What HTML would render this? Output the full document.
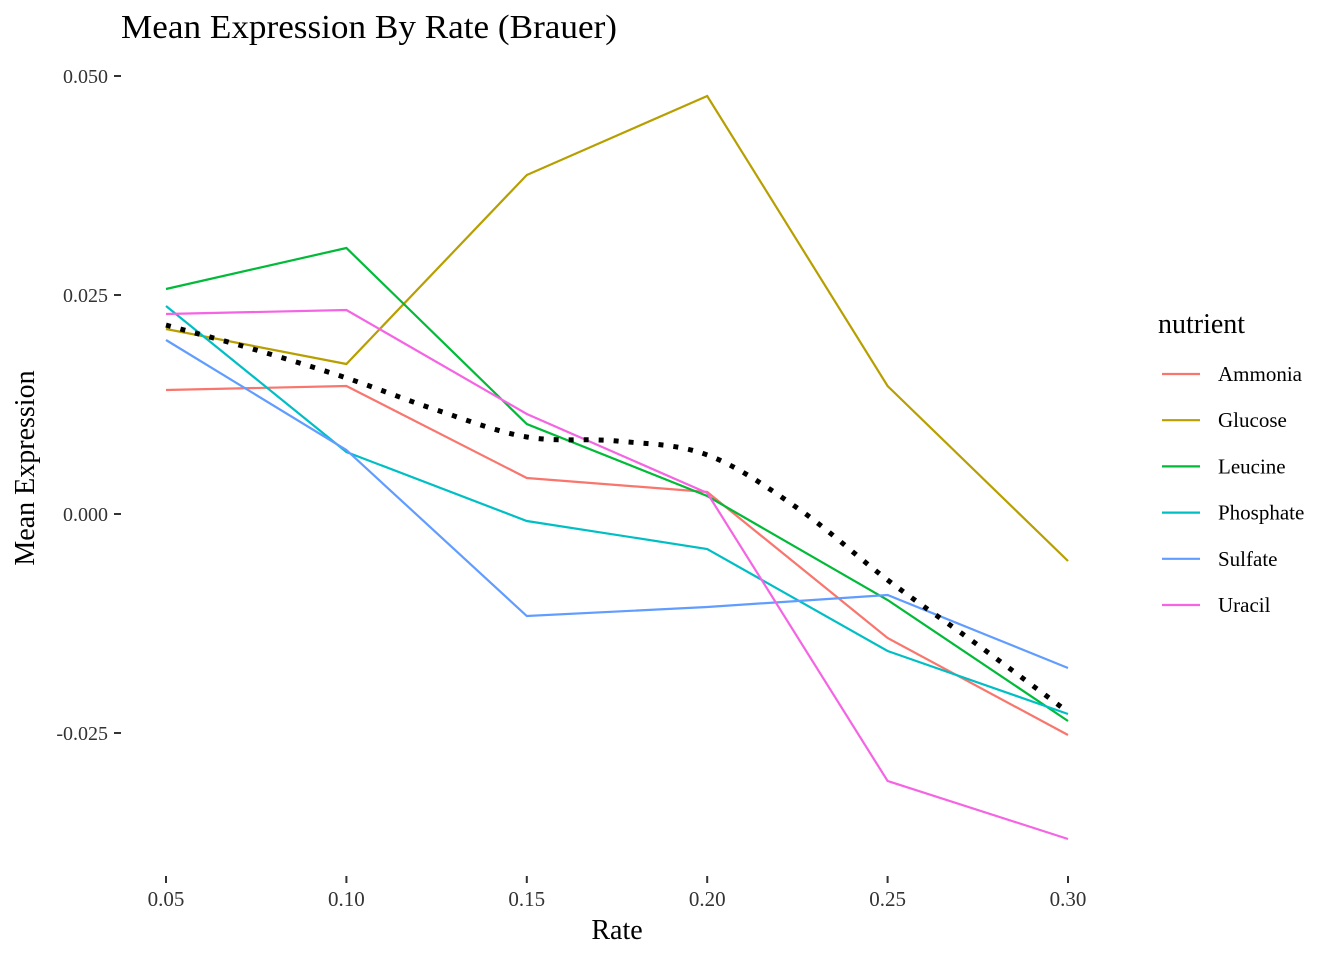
<!DOCTYPE html>
<html><head><meta charset="utf-8"><style>
body{margin:0;background:#fff;}
svg{display:block;font-family:"Liberation Serif",serif;}
</style></head><body>
<svg id="chart" width="1344" height="960">
<text x="121" y="38" font-size="34" fill="#000" textLength="496" lengthAdjust="spacingAndGlyphs">Mean Expression By Rate (Brauer)</text>
<g id="yaxis"></g>
<g id="xaxis"></g>
<text x="617" y="939" font-size="28" text-anchor="middle">Rate</text>
<text transform="translate(34,468) rotate(-90)" font-size="28" text-anchor="middle">Mean Expression</text>
<g id="series"></g>
<g id="legend">
<text x="1158" y="333" font-size="28">nutrient</text>
</g>
</svg>
<script>
const rates=[0.05,0.10,0.15,0.20,0.25,0.30];
const nutrients=["Ammonia","Glucose","Leucine","Phosphate","Sulfate","Uracil"];
const colors=["#F8766D","#B79F00","#00BA38","#00BFC4","#619CFF","#F564E3"];
const ammonia=[0.01416,0.01461,0.00411,0.00251,-0.01416,-0.02523];
const glucose=[0.02112,0.01712,0.0387,0.04772,0.01461,-0.00537];
const leucine=[0.02568,0.03037,0.01027,0.00205,-0.00982,-0.02363];
const phosphate=[0.02374,0.00708,-0.0008,-0.004,-0.01564,-0.02283];
const sulfate=[0.01986,0.00731,-0.01164,-0.01062,-0.00925,-0.01758];
const uracil=[0.02283,0.02329,0.01142,0.0024,-0.03048,-0.0371];
const smoothX=[0.05,0.075,0.10,0.125,0.15,0.175,0.20,0.225,0.25,0.275,0.30];
const smoothY=[0.02157,0.01872,0.01553,0.01187,0.00879,0.00833,0.00674,0.00068,-0.00753,-0.01495,-0.02260];
const yTicks=[0.050,0.025,0.000,-0.025];
const yTickLabels=["0.050","0.025","0.000","-0.025"];
const xTicks=[0.05,0.10,0.15,0.20,0.25,0.30];
const xTickLabels=["0.05","0.10","0.15","0.20","0.25","0.30"];
const allSeries=[ammonia,glucose,leucine,phosphate,sulfate,uracil];

const NS="http://www.w3.org/2000/svg";
function xs(v){return 166+(v-0.05)*(1068-166)/0.25;}
function ys(v){return 514-v*8760;}
function mk(t,a,p){const e=document.createElementNS(NS,t);for(const k in a)e.setAttribute(k,a[k]);p.appendChild(e);return e;}

const ya=document.getElementById('yaxis');
yTicks.forEach((t,i)=>{
  const l=mk('line',{x1:114,x2:121,y1:ys(t),y2:ys(t),stroke:'#333','stroke-width':2},ya);
  
  
  const tx=mk('text',{x:108,y:ys(t)+7,'font-size':20,'text-anchor':'end',fill:'#333'},ya);
  tx.textContent=yTickLabels[i];
  
  
});
const xa=document.getElementById('xaxis');
xTicks.forEach((t,i)=>{
  const l=mk('line',{x1:xs(t),x2:xs(t),y1:876,y2:883,stroke:'#333','stroke-width':2},xa);
  
  
  const tx=mk('text',{x:xs(t),y:906,'font-size':21,'text-anchor':'middle',fill:'#333'},xa);
  tx.textContent=xTickLabels[i];
  
  
});
const sg=document.getElementById('series');
allSeries.forEach((s,i)=>{
  const d=s.map((v,j)=>(j?'L':'M')+xs(rates[j]).toFixed(1)+','+ys(v).toFixed(1)).join('');
  const p=mk('path',{d:d,fill:'none',stroke:colors[i],'stroke-width':2.2},sg);
  
  
});
const pts=smoothX.map((x,i)=>[xs(x),ys(smoothY[i])]);
let d='M'+pts[0][0]+','+pts[0][1];
for(let i=0;i<pts.length-1;i++){
  const p0=pts[Math.max(0,i-1)],p1=pts[i],p2=pts[i+1],p3=pts[Math.min(pts.length-1,i+2)];
  d+='C'+(p1[0]+(p2[0]-p0[0])/6)+','+(p1[1]+(p2[1]-p0[1])/6)+' '+(p2[0]-(p3[0]-p1[0])/6)+','+(p2[1]-(p3[1]-p1[1])/6)+' '+p2[0]+','+p2[1];
}
const sm=mk('path',{d:d,fill:'none',stroke:'#000','stroke-width':5,'stroke-dasharray':'5 10'},sg);



const lg=document.getElementById('legend');
nutrients.forEach((n,i)=>{
  const y=374+i*46.2;
  const l=mk('line',{x1:1162,x2:1200,y1:y,y2:y,stroke:colors[i],'stroke-width':2.2},lg);
  
  
  const t=mk('text',{x:1218,y:y+7,'font-size':21,fill:'#000'},lg);
  t.textContent=n;
  
  
});
</script>
</body></html>
